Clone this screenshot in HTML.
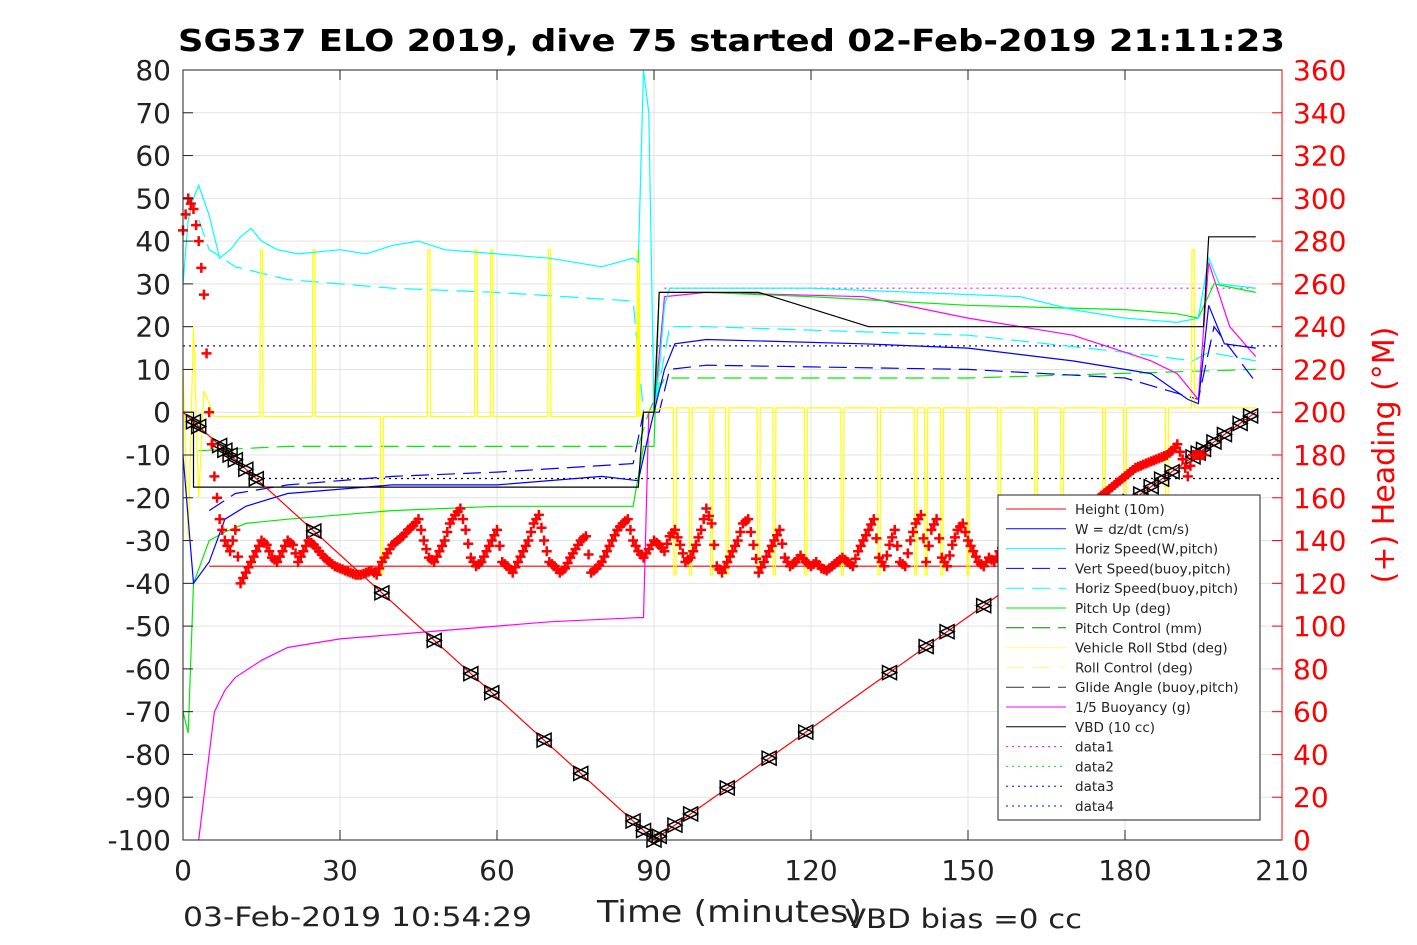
<!DOCTYPE html>
<html><head><meta charset="utf-8">
<style>
html,body{margin:0;padding:0;background:#fff;}
svg{display:block;font-family:"DejaVu Sans","Liberation Sans",sans-serif;}
</style></head>
<body>
<svg id="chart" width="1417" height="945" viewBox="0 0 1417 945" xmlns="http://www.w3.org/2000/svg">
<rect x="0" y="0" width="1417" height="945" fill="#fff"/>
<text x="178" y="51" font-size="30" font-weight="bold" textLength="1107" lengthAdjust="spacingAndGlyphs" fill="#000">SG537 ELO 2019, dive 75 started 02-Feb-2019 21:11:23</text>
<g id="grid"></g>
<g id="series"></g>
<g id="axes"></g>
<text x="183" y="926" font-size="27" textLength="349" lengthAdjust="spacingAndGlyphs" fill="#222">03-Feb-2019 10:54:29</text>
<text x="597" y="922" font-size="30" textLength="265" lengthAdjust="spacingAndGlyphs" fill="#222">Time (minutes)</text>
<text x="845" y="928" font-size="27" textLength="237" lengthAdjust="spacingAndGlyphs" fill="#222">VBD bias =0 cc</text>
<text transform="translate(1394,455) rotate(-90)" font-size="30" text-anchor="middle" fill="#f00">(+) Heading (°M)</text>
<g id="legend"></g>
</svg>
<script>
const xTicks=[0,30,60,90,120,150,180,210];
const yTicks=[80,70,60,50,40,30,20,10,0,-10,-20,-30,-40,-50,-60,-70,-80,-90,-100];
const hTicks=[360,340,320,300,280,260,240,220,200,180,160,140,120,100,80,60,40,20,0];
// series: [time, value]
const horizW=[[0,30],[1,45],[2,50],[3,53],[5,46],[7,36],[9,38],[11,41],[13,43],[15,40],[18,38],[22,37],[30,38],[35,37],[40,39],[45,40],[50,38],[60,37],[70,36],[80,34],[86,36],[87,35],[88,80],[89,70],[90,0],[91,10],[92,25],[93,29],[100,29],[120,29],[140,28],[160,27],[170,24],[180,22],[190,21],[194,22],[196,36],[198,30],[205,29]];
const horizBuoy=[[3,45],[5,38],[10,34],[20,31],[40,29],[60,28],[86,26],[88,0],[90,0],[93,20],[100,20],[150,18],[180,14],[193,12],[196,14],[205,12]];
const wSpeed=[[0,-10],[2,-40],[5,-35],[8,-25],[12,-22],[20,-19],[40,-17],[60,-17],[80,-15],[87,-16],[89,-5],[90,0],[92,10],[94,16],[100,17],[130,16],[150,15],[170,12],[185,9],[192,3],[194,2],[196,25],[199,16],[205,15]];
const vertBuoy=[[5,-23],[10,-19],[20,-17],[40,-15],[60,-14],[86,-12],[88,0],[91,0],[93,10],[100,11],[150,10],[180,8],[194,3],[197,20],[205,7]];
const pitchUp=[[0,-70],[1,-75],[2,-40],[5,-30],[8,-28],[12,-26],[20,-25],[40,-23],[60,-22],[86,-22],[88,-8],[90,-8],[91,28],[100,28],[120,27],[150,25],[180,24],[190,23],[194,22],[197,30],[205,28]];
const pitchCtl=[[3,-9],[20,-8],[87,-8],[89,0],[92,8],[150,8],[205,10]];
const buoyancy=[[3,-100],[4,-90],[6,-70],[8,-65],[10,-62],[15,-58],[20,-55],[30,-53],[50,-51],[70,-49],[87,-48],[88,-48],[89,0],[90,0],[92,27],[100,28],[130,27],[150,22],[170,18],[185,12],[190,9],[194,3],[196,35],[200,20],[205,13]];
const vbd=[[0,0],[2,0],[2,-17.5],[87,-17.5],[88,0],[90,0],[91,28],[110,28],[131,20],[195,20],[196,41],[205,41]];
const depth=[[0,0],[90,-100],[205,0]];
const data1=[[92,29],[205,29]];
const rollBase=[[0,10],[1,-30],[2,20],[3,-20],[4,5],[6,-1],[87,-1],[88,0],[92,1],[205,1]];
const rollUp=[15,25,47,56,59,70,87,193];
const rollDown=[38,94,97,101,104,110,113,119,126,133,140,142,145,150,156,163,168,176,180,188];
const markTimes=[2,3,7,8,9,10,12,14,25,38,48,55,59,69,76,86,88,90,91,94,97,104,112,119,135,142,146,153,181,183,185,187,189,193,194,195,197,199,202,204];
const heading=[285,300,295,280,255,200,170,150,140,135,145,120,125,130,135,140,138,132,130,135,140,138,130,135,140,138,135,132,130,128,127,126,125,124,124,125,126,124,130,134,138,140,142,145,147,150,140,132,130,135,140,148,152,155,145,132,128,130,135,140,145,130,128,125,130,135,140,148,152,140,130,128,125,127,132,136,140,142,125,127,130,135,140,145,148,150,140,135,132,136,140,138,135,142,145,138,130,132,138,145,155,148,128,125,130,135,140,148,150,138,125,130,135,140,145,132,128,130,133,130,128,130,127,126,128,130,132,130,128,135,140,145,150,132,128,138,145,130,128,140,148,152,130,145,150,132,128,138,145,148,140,135,130,128,132,130,135,138,140,null,null,null,null,null,null,null,null,null,null,null,null,null,null,null,null,160,162,164,166,168,170,172,174,175,176,177,178,179,180,182,185,178,170,180,180,180];

const L=183,R=1282,T=70,B=840;
const X=t=>L+(t-0)*(R-L)/210;
const Y=v=>T+(80-v)*(B-T)/180;
const YH=h=>B-h*(B-T)/360;
const NS='http://www.w3.org/2000/svg';
function mk(tag,attrs,parent){const e=document.createElementNS(NS,tag);for(const k in attrs)e.setAttribute(k,attrs[k]);parent.appendChild(e);return e;}
const grid=document.getElementById('grid'),axes=document.getElementById('axes'),ser=document.getElementById('series'),leg=document.getElementById('legend');
xTicks.forEach(t=>{
  const g=mk('line',{x1:X(t),x2:X(t),y1:T,y2:B,stroke:'#e3e3e3','stroke-width':1},grid);
  
  
  const tx=mk('text',{x:X(t),y:880,'font-size':28,'text-anchor':'middle',fill:'#222'},axes);tx.textContent=t;
  
  
  mk('line',{x1:X(t),x2:X(t),y1:B,y2:B-10,stroke:'#222'},axes);
  mk('line',{x1:X(t),x2:X(t),y1:T,y2:T+10,stroke:'#222'},axes);
});
yTicks.forEach(v=>{
  const g=mk('line',{x1:L,x2:R,y1:Y(v),y2:Y(v),stroke:'#e3e3e3','stroke-width':1},grid);
  
  
  const tx=mk('text',{x:171,y:Y(v)+10,'font-size':28,'text-anchor':'end',fill:'#222'},axes);tx.textContent=v;
  
  
  mk('line',{x1:L,x2:L+10,y1:Y(v),y2:Y(v),stroke:'#222'},axes);
});
hTicks.forEach(h=>{
  const tx=mk('text',{x:1293,y:YH(h)+10,'font-size':28,fill:'#f00'},axes);tx.textContent=h;
  
  
  mk('line',{x1:R-10,x2:R,y1:YH(h),y2:YH(h),stroke:'#f00'},axes);
});
const fr=mk('rect',{x:L,y:T,width:R-L,height:B-T,fill:'none',stroke:'#222','stroke-width':1},axes);


mk('line',{x1:R,x2:R,y1:T,y2:B,stroke:'#f00'},axes);

function line(data,stroke,dash,name,w){
  const d=data.map((p,i)=>(i?'L':'M')+X(p[0]).toFixed(1)+' '+Y(p[1]).toFixed(1)).join(' ');
  const p=mk('path',{d:d,fill:'none',stroke:stroke,'stroke-width':w||1.2,'stroke-dasharray':dash||'none'},ser);
  
  
}
line([[0,15.5],[210,15.5]],'#00f','2 4','data4-line');
line([[13,-15.5],[210,-15.5]],'#000','2 4','data3-line');
line([[5,-36],[160,-36]],'#f00','','height-ref-line');
line(data1,'#f0f','2 4','data1-line');
line(pitchCtl,'#0e0','18 8','pitch-control-line');
line(vertBuoy,'#00f','18 8','vert-speed-buoy-line');
line(horizBuoy,'#0ff','18 8','horiz-speed-buoy-line');
(function(){
  let pts=rollBase.slice();
  rollUp.forEach(t=>{const b=t<90?-1:1;pts.push([t-0.3,b],[t-0.2,38],[t+0.2,38],[t+0.3,b]);});
  rollDown.forEach(t=>{const b=t<90?-1:1;pts.push([t-0.3,b],[t-0.2,-38],[t+0.2,-38],[t+0.3,b]);});
  pts.sort((a,b)=>a[0]-b[0]);
  line(pts,'#ff0','','roll-stbd-line');
})();
line(buoyancy,'#f0f','','buoyancy-line');
line(pitchUp,'#0e0','','pitch-up-line');
line(horizW,'#0ff','','horiz-speed-w-line');
line(wSpeed,'#00f','','w-speed-line');
line(vbd,'#000','','vbd-line');
line(depth,'#f00','','height-line');
function depthAt(t){return t<=90?-t*100/90:-100+(t-90)*100/115;}
markTimes.forEach(t=>{
  const x=X(t),y=Y(depthAt(t));
  const g=mk('path',{d:`M${x-7} ${y-7} L${x+7} ${y} L${x-7} ${y+7} Z M${x+7} ${y-7} L${x-7} ${y} L${x+7} ${y+7} Z`,fill:'none',stroke:'#000','stroke-width':1.5},ser);
  
  
});
heading.forEach((h,i)=>{
  if(h===null)return;
  const x=X(i),y=YH(h);
  const g=mk('path',{d:`M${x-5} ${y} L${x+5} ${y} M${x} ${y-5} L${x} ${y+5}`,stroke:'#f00','stroke-width':2.5},ser);
  
  
  if(i<heading.length-1&&heading[i+1]!==null){
    const x2=X(i+0.5),y2=YH((h+heading[i+1])/2);
    const g2=mk('path',{d:`M${x2-5} ${y2} L${x2+5} ${y2} M${x2} ${y2-5} L${x2} ${y2+5}`,stroke:'#f00','stroke-width':2.5},ser);
    
    
  }
});
const legItems=[['Height (10m)','#f00',''],['W = dz/dt (cm/s)','#00f',''],['Horiz Speed(W,pitch)','#0ff',''],['Vert Speed(buoy,pitch)','#00f','18 8'],['Horiz Speed(buoy,pitch)','#0ff','18 8'],['Pitch Up (deg)','#0e0',''],['Pitch Control (mm)','#080','18 8'],['Vehicle Roll Stbd (deg)','#ff8',''],['Roll Control (deg)','#ff8','18 8'],['Glide Angle (buoy,pitch)','#333','18 8'],['1/5 Buoyancy (g)','#f0f',''],['VBD (10 cc)','#000',''],['data1','#f0f','2 4'],['data2','#0e0','2 4'],['data3','#00f','2 4'],['data4','#00f','2 4']];
const lb=mk('rect',{x:998,y:495,width:262,height:325,fill:'#fff',stroke:'#222'},leg);


legItems.forEach((it,i)=>{
  const y=509+i*19.8;
  mk('line',{x1:1006,x2:1066,y1:y,y2:y,stroke:it[1],'stroke-dasharray':it[2]||'none'},leg);
  const t=mk('text',{x:1075,y:y+5,'font-size':13.5,fill:'#222'},leg);t.textContent=it[0];
  
  
});
</script>
</body></html>
